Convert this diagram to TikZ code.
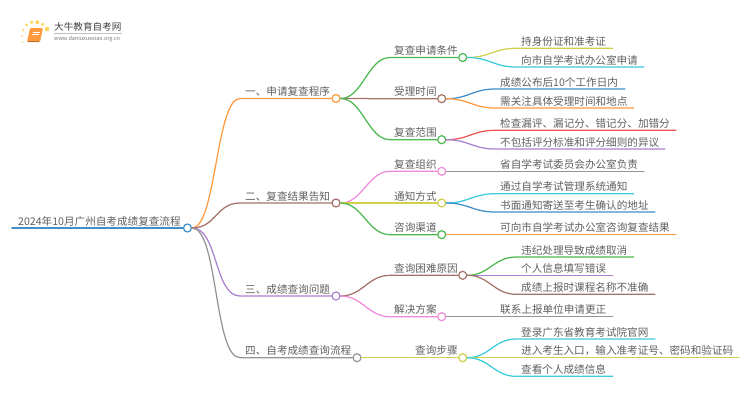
\documentclass[tikz,border=0pt]{standalone}
\usepackage{fontspec}
\setmainfont{Noto Sans CJK SC}
\definecolor{cblue}{HTML}{3F8FCB}
\definecolor{corange}{HTML}{FF9A3E}
\definecolor{cbrown}{HTML}{A5736A}
\definecolor{cpurple}{HTML}{AA80D2}
\definecolor{cgray}{HTML}{959595}
\definecolor{cgreen}{HTML}{4DB84F}
\definecolor{cpink}{HTML}{F08BDA}
\definecolor{cyellow}{HTML}{CFCF4C}
\definecolor{ccyan}{HTML}{3CCBDC}
\definecolor{cred}{HTML}{EE5555}
\definecolor{ctext}{HTML}{5F5F5F}
\tikzset{
  lab/.style={anchor=base west,inner sep=0pt,text=ctext,font=\fontsize{10.6pt}{12pt}\selectfont},
  hubdot/.style={circle,draw=#1,fill=white,line width=1.2pt,minimum size=8pt,inner sep=0pt},
  wire/.style={draw=#1,line width=1.25pt,line cap=round},
}
% \hubnode{parent}{name}{elbow x}{y}{circle x}{colour}{text x}{text}{bend}
\newcommand\hubnode[9]{%
  \node[hubdot=#6] (#2) at (#5,#4) {};
  \coordinate (#2e) at (#3,#4);
  \path[wire=#6] (#1.east) .. controls +(#9,0) and +(-#9,0) .. (#2e) -- (#2.west);
  \node[lab] (#2t) at (#7,#4-3) {#8};
}
% \leafnode{parent}{name}{elbow x}{y}{end x}{colour}{text x}{text}
\newcommand\leafnode[8]{%
  \coordinate (#2e) at (#3,#4);
  \coordinate (#2z) at (#5,#4);
  \path[wire=#6] (#1.east) .. controls +(22,0) and +(-22,0) .. (#2e) -- (#2z);
  \node[lab] (#2t) at (#7,#4-3) {#8};
}
\begin{document}
\begin{tikzpicture}[x=1pt,y=-1pt]
\useasboundingbox (0,0) rectangle (750,410);
% logo
\fill[corange!55!yellow,opacity=.75] (47,29) circle (2.3) (42.7,24.3) circle (1.8) (37.3,22.3) circle (2) (31.7,22.3) circle (1.8) (26.7,25) circle (1.5) (23.3,30) circle (1.2) (22,36) circle (1) (22.7,42.3) circle (.8);
\fill[corange,rounded corners=1pt] (30,28) -- (43,28) -- (40,42) -- (27,42) -- cycle;
\draw[white,line width=.6pt] (32.5,32) -- (39.5,32) (32,34.5) -- (39,34.5);
\draw[corange!70!black,line width=.5pt] (28,41) -- (39,41);
\node[anchor=base west,inner sep=0pt,text=black!75,font=\fontsize{9.6pt}{11pt}\selectfont] (logoa) at (54,30.5) {大牛教育自考网};
\draw[black!25,line width=.4pt] (54,33.5) -- (122,33.5);
\node[anchor=base west,inner sep=0pt,text=black!55,font=\fontsize{5.45pt}{6pt}\selectfont] (logob) at (54,40.5) {www.daniuxuexiao.org.cn};
% root
\node[hubdot=cblue] (root) at (187.5,228) {};
\coordinate (rootz) at (12,228);
\path[wire=cblue,line width=1.6pt] (rootz) -- (root.west);
\node[lab] (roott) at (18,225) {2024年10月广州自考成绩复查流程};
% level 1
\hubnode{root}{a}{240}{98.5}{336}{corange}{245}{一、申请复查程序}{24}
\hubnode{root}{b}{240}{203}{336}{cbrown}{245}{二、复查结果告知}{24}
\hubnode{root}{c}{240}{296}{336}{cpurple}{245}{三、成绩查询问题}{26}
\hubnode{root}{d}{240}{357.7}{357}{cgray}{245}{四、自考成绩查询流程}{26}
% level 2
\hubnode{a}{aa}{390}{57.5}{462.7}{cgreen}{394}{复查申请条件}{22}
\hubnode{a}{ab}{390}{98.7}{441.7}{cbrown}{394}{受理时间}{22}
\hubnode{a}{ac}{390}{139.7}{441.7}{cgreen}{394}{复查范围}{22}
\hubnode{b}{ba}{390}{171.3}{441.7}{cpink}{394}{复查组织}{22}
\hubnode{b}{bb}{390}{203}{441.7}{cyellow}{394}{通知方式}{22}
\hubnode{b}{bc}{390}{234.7}{441.7}{cgreen}{394}{咨询渠道}{22}
\hubnode{c}{ca}{390}{275.3}{462.7}{cbrown}{394}{查询困难原因}{22}
\hubnode{c}{cb}{390}{316.7}{441.7}{cpink}{394}{解决方案}{22}
\hubnode{d}{da}{410}{357.7}{462.7}{cyellow}{415}{查询步骤}{22}
% leaves
\leafnode{aa}{aaa}{516}{48.3}{612.7}{cyellow}{521}{持身份证和准考证}
\leafnode{aa}{aab}{516}{67}{644}{ccyan}{521}{向市自学考试办公室申请}
\leafnode{ab}{aba}{495}{89}{625}{cblue}{500}{成绩公布后10个工作日内}
\leafnode{ab}{abb}{495}{108}{633.7}{corange}{500}{需关注具体受理时间和地点}
\leafnode{ac}{aca}{495}{130.3}{676}{cred}{500}{检查漏评、漏记分、错记分、加错分}
\leafnode{ac}{acb}{495}{149}{665}{cpurple}{500}{不包括评分标准和评分细则的异议}
\leafnode{ba}{baa}{495}{171.3}{644}{cgray}{500}{省自学考试委员会办公室负责}
\leafnode{bb}{bba}{495}{193.7}{633.7}{ccyan}{500}{通过自学考试管理系统通知}
\leafnode{bb}{bbb}{495}{212}{655}{cblue}{500}{书面通知寄送至考生确认的地址}
\leafnode{bc}{bca}{495}{234.7}{676}{corange}{500}{可向市自学考试办公室咨询复查结果}
\leafnode{ca}{caa}{516}{257}{633.7}{cgreen}{521}{违纪处理导致成绩取消}
\leafnode{ca}{cab}{516}{275.3}{612.7}{cpurple}{521}{个人信息填写错误}
\leafnode{ca}{cac}{516}{294.3}{655}{cbrown}{521}{成绩上报时课程名称不准确}
\leafnode{cb}{cba}{495}{316.7}{612.7}{cgray}{500}{联系上报单位申请更正}
\leafnode{da}{daa}{516}{339}{655}{ccyan}{521}{登录广东省教育考试院官网}
\leafnode{da}{dab}{516}{357.7}{739}{cyellow}{521}{进入考生入口，输入准考证号、密码和验证码}
\leafnode{da}{dac}{516}{376.3}{612.7}{ccyan}{521}{查看个人成绩信息}
\end{tikzpicture}
\end{document}
